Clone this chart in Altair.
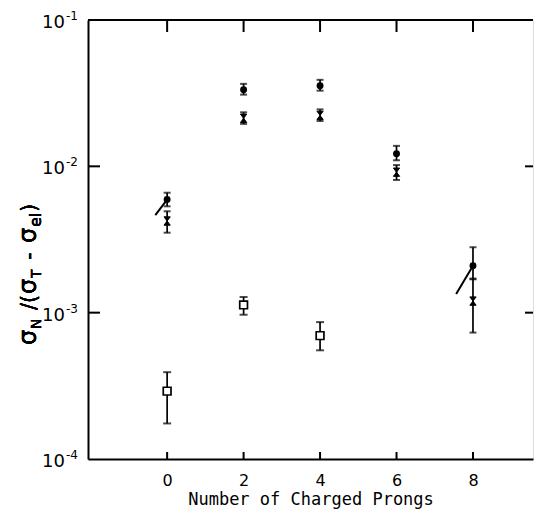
import altair as alt
import pandas as pd

# ---- data ----
prongs = [0, 2, 4, 6, 8]
circ_val = [5.93e-3, 0.0334, 0.0355, 0.0122, 2.09e-3]
circ_hi = [6.6e-3, 0.0366, 0.0390, 0.0138, 2.8e-3]
circ_lo = [5.33e-3, 0.0309, 0.0329, 0.0110, 1.69e-3]

cross_val = [4.23e-3, 0.0213, 0.0223, 9.12e-3, 1.20e-3]
cross_hi = [4.93e-3, 0.0234, 0.0245, 0.0102, 1.71e-3]
cross_lo = [3.52e-3, 0.0195, 0.0204, 8.07e-3, 7.31e-4]

sq_prongs = [0, 2, 4]
sq_val = [2.91e-4, 1.13e-3, 6.97e-4]
sq_hi = [3.92e-4, 1.28e-3, 8.62e-4]
sq_lo = [1.75e-4, 9.68e-4, 5.53e-4]

seg_id = ["a", "a", "b", "b"]
seg_x = [-0.31, 0, 7.56, 8]
seg_y = [4.64e-3, 5.93e-3, 1.34e-3, 2.09e-3]

x_ticks = [0, 2, 4, 6, 8]
y_ticks = [1e-4, 1e-3, 1e-2, 1e-1]
y_tick_exp = ["-4", "-3", "-2", "-1"]
y_inner_ticks = [1e-3, 1e-2]

W, H = 445, 439
FONT = "DejaVu Sans"

xs = alt.Scale(domain=[-2.07, 9.57], nice=False, zero=False)
ys = alt.Scale(type="log", domain=[1e-4, 1e-1], nice=False)

circ = pd.DataFrame({"x": prongs, "y": circ_val, "lo": circ_lo, "hi": circ_hi})
cross = pd.DataFrame({"x": prongs, "y": cross_val, "lo": cross_lo, "hi": cross_hi})
sq = pd.DataFrame({"x": sq_prongs, "y": sq_val, "lo": sq_lo, "hi": sq_hi})
seg = pd.DataFrame({"id": seg_id, "x": seg_x, "y": seg_y})
xt = pd.DataFrame({"x": x_ticks})
yt = pd.DataFrame({"y": y_inner_ticks})
ylab = pd.DataFrame({"y": y_ticks, "exp": y_tick_exp})

X = alt.X("x:Q", scale=xs, axis=alt.Axis(
    values=x_ticks, tickSize=0, grid=False, domainColor="black", domainWidth=2,
    labelFont=FONT, labelFontSize=16, labelColor="black", labelPadding=13,
    title="Number of Charged Prongs", titleFont="DejaVu Sans Mono", titleFontSize=17,
    titleFontWeight="normal", titleColor="black", titlePadding=3))
Y = alt.Y("y:Q", scale=ys, axis=alt.Axis(
    values=y_ticks, tickSize=0, grid=False, domainColor="black", domainWidth=2,
    labels=False, title=None))

layers = []

# top border line
layers.append(alt.Chart(xt).mark_rule(color="black", strokeWidth=2).encode(
    x=alt.value(0), x2=alt.value(W), y=alt.value(0)))

# inward ticks bottom / top
layers.append(alt.Chart(xt).mark_rule(color="black", strokeWidth=2).encode(
    x=alt.X("x:Q", scale=xs), y=alt.value(H), y2=alt.value(H - 7)))
layers.append(alt.Chart(xt).mark_rule(color="black", strokeWidth=2).encode(
    x=alt.X("x:Q", scale=xs), y=alt.value(0), y2=alt.value(12)))
# inward ticks left / right
layers.append(alt.Chart(yt).mark_rule(color="black", strokeWidth=2).encode(
    y=alt.Y("y:Q", scale=ys), x=alt.value(0), x2=alt.value(12)))
layers.append(alt.Chart(yt).mark_rule(color="black", strokeWidth=2).encode(
    y=alt.Y("y:Q", scale=ys), x=alt.value(W - 8), x2=alt.value(W)))

# y tick labels: "10" with raised exponent
layers.append(alt.Chart(ylab).mark_text(
    text="10", font=FONT, fontSize=18, align="right", baseline="middle",
    dy=3, color="black").encode(y=alt.Y("y:Q", scale=ys), x=alt.value(-23)))
layers.append(alt.Chart(ylab).mark_text(
    font=FONT, fontSize=12, align="left", baseline="middle",
    dy=-4, dx=1, color="black").encode(
    y=alt.Y("y:Q", scale=ys), x=alt.value(-23), text="exp:N"))

# error bars
for df, cap in ((circ, 7), (cross, 7), (sq, 8)):
    layers.append(alt.Chart(df).mark_rule(color="black", strokeWidth=1.7).encode(
        x=alt.X("x:Q", scale=xs), y=alt.Y("lo:Q", scale=ys), y2="hi:Q"))
    for col in ("lo", "hi"):
        layers.append(alt.Chart(df).mark_tick(color="black", orient="horizontal",
                                              size=cap, thickness=2).encode(
            x=alt.X("x:Q", scale=xs), y=alt.Y(f"{col}:Q", scale=ys)))

# sloping segments
layers.append(alt.Chart(seg).mark_line(color="black", strokeWidth=2).encode(
    x=alt.X("x:Q", scale=xs), y=alt.Y("y:Q", scale=ys), detail="id:N"))

# markers
layers.append(alt.Chart(circ).mark_point(shape="circle", filled=True, color="black",
                                         size=48, opacity=1).encode(x=X, y=Y))
hourglass = "M-0.75,-1L0.75,-1L-0.75,1L0.75,1Z"
layers.append(alt.Chart(cross).mark_point(shape=hourglass, filled=True, color="black",
                                          stroke="black", strokeWidth=1,
                                          size=70, opacity=1).encode(
    x=alt.X("x:Q", scale=xs), y=alt.Y("y:Q", scale=ys)))
layers.append(alt.Chart(sq).mark_point(shape="square", filled=True, fill="white",
                                       stroke="black", strokeWidth=1.7, size=60,
                                       opacity=1).encode(
    x=alt.X("x:Q", scale=xs), y=alt.Y("y:Q", scale=ys)))

# y title built from pieces (rotated, with subscripts)
pieces = [
    ("σ", 24, 345, 36),
    ("N", 14, 329, 41),
    ("/(", 21, 310, 36),
    ("σ", 24, 294, 36),
    ("T", 14, 278, 41),
    ("-", 21, 260, 36),
    ("σ", 24, 243, 36),
    ("el", 16, 227, 41),
    (")", 21, 212, 36),
]
for txt, fs, sy, sx in pieces:
    layers.append(alt.Chart(xt).mark_text(
        text=txt, font=FONT, fontSize=fs, angle=270, align="left",
        baseline="alphabetic", color="black").encode(
        x=alt.value(sx - 88), y=alt.value(sy - 20)))

chart = alt.layer(*layers).properties(
    width=W, height=H,
    autosize=alt.AutoSizeParams(type="none"),
    padding={"left": 80, "top": 12, "right": 1, "bottom": 51},
).configure_view(stroke=None).configure(background="white")

chart.save("out.html", embed_options={"renderer": "svg", "actions": False})
